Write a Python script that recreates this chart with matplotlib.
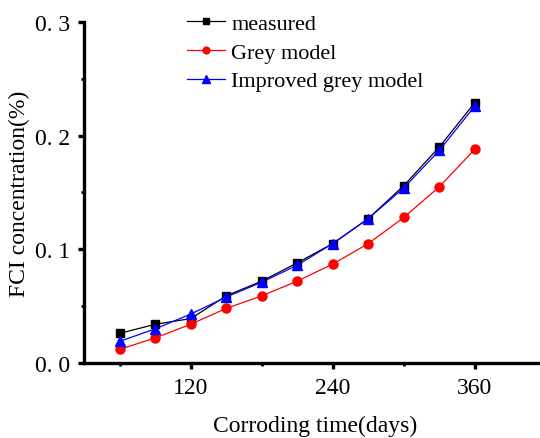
import numpy as np
import matplotlib
matplotlib.use("Agg")
import matplotlib.pyplot as plt
from matplotlib.ticker import MultipleLocator, FuncFormatter

plt.rcParams["font.family"] = ["Liberation Serif", "DejaVu Serif"]

# corroding time (days) and FCI concentration (%)
days = [60, 90, 120, 150, 180, 210, 240, 270, 300, 330, 360]
measured = [0.026, 0.034, 0.039, 0.059, 0.072, 0.088, 0.105, 0.127, 0.156, 0.190, 0.229]
grey = [0.012, 0.022, 0.034, 0.048, 0.059, 0.072, 0.087, 0.105, 0.128, 0.155, 0.188]
improved = [0.019, 0.030, 0.043, 0.058, 0.071, 0.086, 0.105, 0.127, 0.154, 0.187, 0.226]

fig = plt.figure(figsize=(5.4, 4.39), dpi=100)
ax = fig.add_axes([0.156, 0.171, 0.855, 0.777])

ax.plot(days, measured, color="black", lw=0.9, marker="s", ms=6, label="measured")
ax.plot(days, grey, color="red", lw=0.9, marker="o", ms=6.5, label="Grey model")
ax.plot(days, improved, color="blue", lw=0.9, marker="^", ms=7, label="Improved grey model")

ax.set_xlim(30, 420)
ax.set_ylim(0, 0.3)
ax.xaxis.set_major_locator(MultipleLocator(120))
ax.xaxis.set_minor_locator(MultipleLocator(60))
ax.yaxis.set_major_locator(MultipleLocator(0.1))
ax.yaxis.set_minor_locator(MultipleLocator(0.05))
ax.set_xticks([120, 240, 360])
ax.yaxis.set_major_formatter(FuncFormatter(lambda v, p: f"{v:.1f}".replace(".", ". ")))

for side in ("top", "right"):
    ax.spines[side].set_visible(False)
for side in ("left", "bottom"):
    ax.spines[side].set_linewidth(2.4)
ax.tick_params(which="major", direction="out", length=4, width=2.4, labelsize=17, pad=6)
ax.tick_params(which="minor", direction="out", length=2, width=2)

ax.set_xlabel("Corroding time(days)", fontsize=17, labelpad=12)
ax.set_ylabel("FCI concentration(%)", fontsize=17, labelpad=4)

ax.legend(loc="upper left", bbox_to_anchor=(0.203, 1.05), frameon=False,
          fontsize=16, handlelength=1.7, handletextpad=0.3, labelspacing=0.36,
          borderaxespad=0, markerscale=0.75)

fig.savefig("out.png", dpi=100)
